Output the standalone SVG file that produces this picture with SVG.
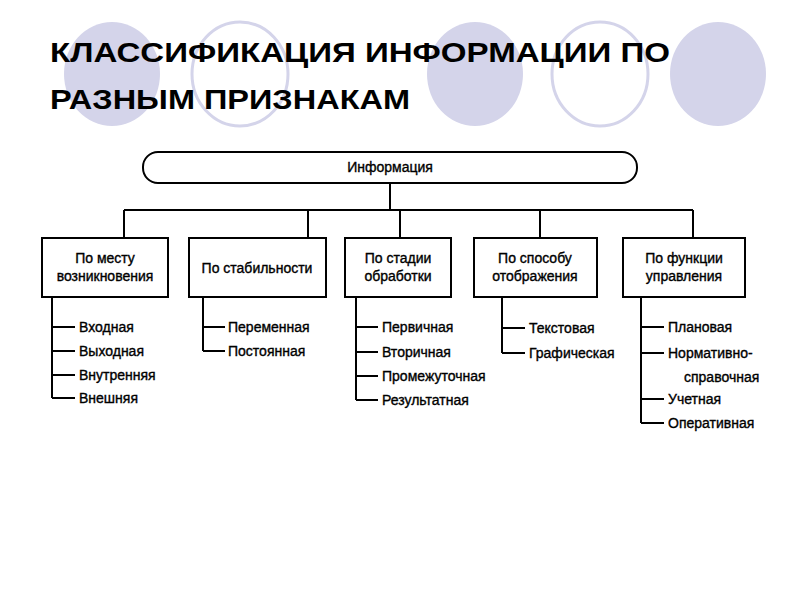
<svg xmlns="http://www.w3.org/2000/svg" width="800" height="600" viewBox="0 0 800 600">
<style>
.f{fill:#d4d4ea}.o{fill:none;stroke:#d4d4ea;stroke-width:3}
.b{fill:#fff;stroke:#000;stroke-width:2}
.l{fill:none;stroke:#000;stroke-width:2}
text{font-family:"Liberation Sans",Arial,sans-serif;fill:#000}
.t{font-size:28px;font-weight:bold}
.n{font-size:14px;text-anchor:middle;stroke:#000;stroke-width:0.35}
.i{font-size:14px;stroke:#000;stroke-width:0.35}
</style>
<rect width="800" height="600" fill="#fff"/>
<ellipse class="f" cx="112" cy="74" rx="48" ry="52"/>
<ellipse class="o" cx="240" cy="74" rx="48" ry="52"/>
<ellipse class="f" cx="475" cy="74" rx="48" ry="52"/>
<ellipse class="o" cx="600" cy="74" rx="48" ry="52"/>
<ellipse class="f" cx="718" cy="74" rx="48" ry="52"/>
<text class="t" x="50" y="62" textLength="620" lengthAdjust="spacingAndGlyphs">КЛАССИФИКАЦИЯ  ИНФОРМАЦИИ ПО</text>
<text class="t" x="50" y="109" textLength="360" lengthAdjust="spacingAndGlyphs">РАЗНЫМ  ПРИЗНАКАМ</text>
<g id="connectors">
<path class="l" d="M390 183V210M124 210H693M124 210V238M308 210V238M400 210V238M540 210V238M693 210V238"/>
<path class="l" d="M52 297V398M52 327H75M52 351H75M52 375H75M52 398H75"/>
<path class="l" d="M203 297V351M203 327H225M203 351H225"/>
<path class="l" d="M356 297V400M356 327H378M356 352H378M356 376H378M356 400H378"/>
<path class="l" d="M502 297V353M502 328H525M502 353H525"/>
<path class="l" d="M641 297V423M641 327H664M641 353H664M641 399H664M641 423H664"/>
</g>
<g id="root"><rect class="b" x="143" y="152" width="494" height="31" rx="15"/><text class="n" x="390" y="172">Информация</text></g>
<g id="n1"><rect class="b" x="42" y="238" width="126" height="59"/><text class="n" x="105" y="263">По месту</text><text class="n" x="105" y="281">возникновения</text></g>
<g id="n2"><rect class="b" x="189" y="238" width="137" height="59"/><text class="n" x="257" y="273">По  стабильности</text></g>
<g id="n3"><rect class="b" x="345" y="238" width="106" height="59"/><text class="n" x="398" y="263">По стадии</text><text class="n" x="398" y="281">обработки</text></g>
<g id="n4"><rect class="b" x="474" y="238" width="123" height="59"/><text class="n" x="535" y="263">По способу</text><text class="n" x="535" y="281">отображения</text></g>
<g id="n5"><rect class="b" x="623" y="238" width="122" height="59"/><text class="n" x="684" y="263">По функции</text><text class="n" x="684" y="281">управления</text></g>
<g id="leaves">
<text class="i" x="79" y="332">Входная</text><text class="i" x="79" y="356">Выходная</text><text class="i" x="79" y="380">Внутренняя</text><text class="i" x="79" y="403">Внешняя</text>
<text class="i" x="228" y="332">Переменная</text><text class="i" x="228" y="356">Постоянная</text>
<text class="i" x="382" y="332">Первичная</text><text class="i" x="382" y="357">Вторичная</text><text class="i" x="382" y="381">Промежуточная</text><text class="i" x="382" y="405">Результатная</text>
<text class="i" x="529" y="333">Текстовая</text><text class="i" x="529" y="358">Графическая</text>
<text class="i" x="668" y="332">Плановая</text><text class="i" x="668" y="358">Нормативно-</text><text class="i" x="684" y="382">справочная</text><text class="i" x="668" y="404">Учетная</text><text class="i" x="668" y="428">Оперативная</text>
</g>
</svg>
